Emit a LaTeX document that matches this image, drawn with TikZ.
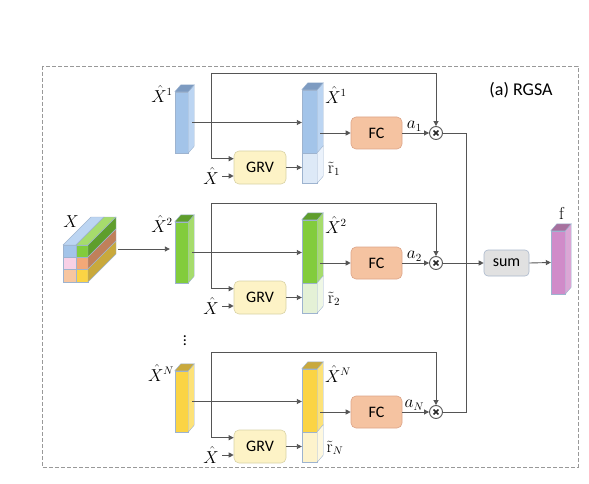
\documentclass[tikz,border=0pt]{standalone}
\usepackage{amsmath}
\usepackage{amssymb}
\usepackage[no-math]{fontspec}
\setmainfont{Carlito}
\usepackage{tikz}
\usetikzlibrary{arrows.meta,positioning,calc}

\definecolor{lineg}{HTML}{555555}
\definecolor{slabedge}{HTML}{9DB3CF}
\definecolor{blueF}{HTML}{A3C4E9}
\definecolor{blueS}{HTML}{BCD5F2}
\definecolor{blueT}{HTML}{7D9BC1}
\definecolor{blueL}{HTML}{DDE9F7}
\definecolor{blueLS}{HTML}{EBF2FB}
\definecolor{greenF}{HTML}{82CC3C}
\definecolor{greenS}{HTML}{A6DC6C}
\definecolor{greenT}{HTML}{5F9E2C}
\definecolor{greenL}{HTML}{E4F1D6}
\definecolor{greenLS}{HTML}{EFF7E6}
\definecolor{yellowF}{HTML}{FBD444}
\definecolor{yellowS}{HTML}{FDE278}
\definecolor{yellowT}{HTML}{C9A93C}
\definecolor{yellowL}{HTML}{FDF3CC}
\definecolor{yellowLS}{HTML}{FEF8E0}
\definecolor{purpF}{HTML}{D08BC9}
\definecolor{purpS}{HTML}{DBA6D5}
\definecolor{purpT}{HTML}{A7709E}
\definecolor{grvfill}{HTML}{FDF3C6}
\definecolor{grvedge}{HTML}{D8D2A6}
\definecolor{fcfill}{HTML}{F5C3A1}
\definecolor{fcedge}{HTML}{DCA488}
\definecolor{sumfill}{HTML}{E1E1E1}
\definecolor{sumedge}{HTML}{AAB8CC}
\definecolor{cubepink}{HTML}{F8D0E6}
\definecolor{cubepeach}{HTML}{F7C6A0}
\definecolor{cubeorange}{HTML}{F3A878}
\definecolor{cubebrown}{HTML}{C0805A}

% side and top faces of a feature slab
\newcommand{\slabside}[2]{%
  \filldraw[fill=#2, draw=slabedge, line width=0.4pt] (#1.north east) -- ++(6,-7) -- ($(#1.south east)+(6,-7)$) -- (#1.south east) -- cycle;}
\newcommand{\slabtop}[2]{%
  \filldraw[fill=#2, draw=slabedge, line width=0.4pt] (#1.north west) -- ++(6,-7) -- ($(#1.north east)+(6,-7)$) -- (#1.north east) -- cycle;}

\begin{document}
\begin{tikzpicture}[x=1pt, y=-1pt,
    font=\fontsize{16}{19}\selectfont,
    leftslab/.style={draw=slabedge, line width=0.4pt, fill=#1, inner sep=0pt, minimum width=13pt, minimum height=61pt},
    midslab/.style={draw=slabedge, line width=0.4pt, fill=#1, inner sep=0pt, minimum width=15pt, minimum height=63pt},
    lowslab/.style={draw=slabedge, line width=0.4pt, fill=#1, inner sep=0pt, minimum width=15pt, minimum height=30pt},
    grvbox/.style={draw=grvedge, rounded corners=5pt, fill=grvfill, minimum width=52pt, minimum height=33pt, inner sep=0pt, line width=0.6pt},
    fcbox/.style={draw=fcedge, rounded corners=5pt, fill=fcfill, minimum width=51pt, minimum height=32pt, inner sep=0pt, line width=0.6pt},
    sumbox/.style={draw=sumedge, rounded corners=4pt, fill=sumfill, minimum width=45pt, minimum height=26pt, inner sep=0pt, line width=0.6pt},
    mulnode/.style={circle, draw=lineg, line width=0.9pt, fill=white, minimum size=13pt, inner sep=0pt,
        path picture={\draw[line width=1.5pt, black!85] ($(path picture bounding box.center)+(-2.4,-2.4)$) -- ++(4.8,4.8)
            ($(path picture bounding box.center)+(-2.4,2.4)$) -- ++(4.8,-4.8);}},
    cell/.style={draw=slabedge, line width=0.4pt},
    arrow/.style={-{Triangle[length=5pt,width=5pt]}, draw=lineg, line width=0.9pt},
    link/.style={draw=lineg, line width=0.9pt}
]
\useasboundingbox (0,0) rectangle (589,484);

% ---- Frame ----
\draw[gray!80, line width=0.7pt, dash pattern=on 4pt off 2pt] (42,66) rectangle (578,467);
\node[font=\fontsize{18}{21}\selectfont] (title) at (521,90) {(a) RGSA};

% ---- Input cube X ----
\filldraw[cell, fill=blueF] (63,245) rectangle (76,257);
\filldraw[cell, fill=cubepink] (63,257) rectangle (76,269);
\filldraw[cell, fill=cubepeach] (63,269) rectangle (76,282);
\filldraw[cell, fill=greenF] (76,245) rectangle (88,257);
\filldraw[cell, fill=cubeorange] (76,257) rectangle (88,269);
\filldraw[cell, fill=yellowF] (76,269) rectangle (88,282);
\filldraw[cell, fill=blueS] (63,245) -- (91,217) -- (104,217) -- (76,245) -- cycle;
\filldraw[cell, fill=greenS] (76,245) -- (104,217) -- (116,217) -- (88,245) -- cycle;
\filldraw[cell, fill=greenT] (88,245) -- (116,217) -- (116,229) -- (88,257) -- cycle;
\filldraw[cell, fill=cubebrown] (88,257) -- (116,229) -- (116,241) -- (88,269) -- cycle;
\filldraw[cell, fill=yellowT] (88,269) -- (116,241) -- (116,254) -- (88,282) -- cycle;
\node (lblX) at (71,222) {$X$};
\coordinate (cubeout) at (118,249);

% ---- Branch 1 ----
\node[leftslab=blueF] (barL1) at (181.5,122.5) {};
\slabside{barL1}{blueS}\slabtop{barL1}{blueT}
\node[midslab=blueF] (barM1) at (309.5,121.5) {};
\node[lowslab=blueL] (rM1) at (309.5,168) {};
\slabside{barM1}{blueS}\slabside{rM1}{blueLS}\slabtop{barM1}{blueT}
\node[grvbox] (grv1) at (260,167.5) {GRV};
\node[fcbox] (fc1) at (376.5,133) {FC};
\node[mulnode] (mul1) at (436,133) {};
\node (lblL1) at (162,94) {$\hat{X}^1$};
\node (lblM1) at (336,95) {$\hat{X}^1$};
\node (lblR1) at (334,169) {$\tilde{\mathrm{r}}_1$};
\node (xin1) at (211,176) {$\hat{X}$};
\coordinate (top1) at (211,73);

% ---- Branch 2 ----
\node[leftslab=greenF] (barL2) at (181.5,252.5) {};
\slabside{barL2}{greenS}\slabtop{barL2}{greenT}
\node[midslab=greenF] (barM2) at (309.5,251.5) {};
\node[lowslab=greenL] (rM2) at (309.5,298) {};
\slabside{barM2}{greenS}\slabside{rM2}{greenLS}\slabtop{barM2}{greenT}
\node[grvbox] (grv2) at (260,297.5) {GRV};
\node[fcbox] (fc2) at (376.5,263) {FC};
\node[mulnode] (mul2) at (436,263) {};
\node (lblL2) at (162,224) {$\hat{X}^2$};
\node (lblM2) at (336,225) {$\hat{X}^2$};
\node (lblR2) at (334,299) {$\tilde{\mathrm{r}}_2$};
\node (xin2) at (211,306) {$\hat{X}$};
\coordinate (top2) at (211,203);

% ---- Branch N ----
\node (dots) at (185,338) {$\vdots$};
\node[leftslab=yellowF] (barL3) at (181.5,401.5) {};
\slabside{barL3}{yellowS}\slabtop{barL3}{yellowT}
\node[midslab=yellowF] (barM3) at (309.5,400.5) {};
\node[lowslab=yellowL] (rM3) at (309.5,447) {};
\slabside{barM3}{yellowS}\slabside{rM3}{yellowLS}\slabtop{barM3}{yellowT}
\node[grvbox] (grv3) at (260,446.5) {GRV};
\node[fcbox] (fc3) at (376.5,412) {FC};
\node[mulnode] (mul3) at (436,412) {};
\node (lblL3) at (161,373) {$\hat{X}^N$};
\node (lblM3) at (338,374) {$\hat{X}^N$};
\node (lblR3) at (335,448) {$\tilde{\mathrm{r}}_N$};
\node (xin3) at (211,455) {$\hat{X}$};
\coordinate (top3) at (211,352);

% ---- Output ----
\node[sumbox] (sum) at (506.5,263) {sum};
\node[leftslab=purpF, minimum width=14pt, minimum height=63pt] (fbar) at (558,262.5) {};
\slabside{fbar}{purpS}\slabtop{fbar}{purpT}
\node (lblf) at (562,213) {$\mathrm{f}$};
\coordinate (bus1) at (466,133);
\coordinate (bus3) at (466,412);

% ---- Connections ----
\draw[arrow, shorten >=5pt] (cubeout) -- (cubeout -| barL2.west);

\draw[arrow] ($(barL1.east)+(4,0)$) -- (barL1.east -| barM1.west);
\draw[arrow] (top1) |- ($(grv1.north west)+(0,8)$);
\draw[arrow] (top1) -| (mul1.north);
\draw[arrow] (xin1.east) -- (xin1.east -| grv1.west);
\draw[arrow] (grv1.east) -- (grv1.east -| rM1.west);
\draw[arrow] ($(fc1.west -| barM1.east)+(3,0)$) -- (fc1.west);
\draw[arrow] (fc1.east) -- node[above, inner sep=1pt, pos=0.45] {$a_1$} (mul1.west);

\draw[arrow] ($(barL2.east)+(4,0)$) -- (barL2.east -| barM2.west);
\draw[arrow] (top2) |- ($(grv2.north west)+(0,8)$);
\draw[arrow] (top2) -| (mul2.north);
\draw[arrow] (xin2.east) -- (xin2.east -| grv2.west);
\draw[arrow] (grv2.east) -- (grv2.east -| rM2.west);
\draw[arrow] ($(fc2.west -| barM2.east)+(3,0)$) -- (fc2.west);
\draw[arrow] (fc2.east) -- node[above, inner sep=1pt, pos=0.45] {$a_2$} (mul2.west);

\draw[arrow] ($(barL3.east)+(4,0)$) -- (barL3.east -| barM3.west);
\draw[arrow] (top3) |- ($(grv3.north west)+(0,8)$);
\draw[arrow] (top3) -| (mul3.north);
\draw[arrow] (xin3.east) -- (xin3.east -| grv3.west);
\draw[arrow] (grv3.east) -- (grv3.east -| rM3.west);
\draw[arrow] ($(fc3.west -| barM3.east)+(3,0)$) -- (fc3.west);
\draw[arrow] (fc3.east) -- node[above, inner sep=1pt, pos=0.45] {$a_N$} (mul3.west);

\draw[link] (mul1.east) -- (bus1) -- (bus3) -- (mul3.east);
\draw[arrow] (mul2.east) -- (sum.west);
\draw[arrow] (sum.east) -- (fbar.west);

\end{tikzpicture}
\end{document}
